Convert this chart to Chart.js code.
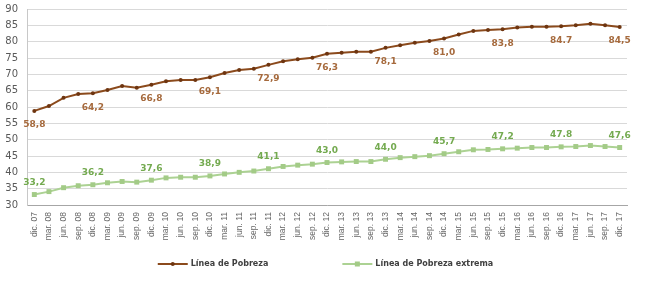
<!DOCTYPE html>
<html>
<head>
<meta charset="utf-8">
<script src="https://cdn.jsdelivr.net/npm/chart.js@4"></script>
<style>
  html, body { margin: 0; padding: 0; background: #fff; }
</style>
</head>
<body>
<canvas id="myChart" width="655" height="284"></canvas>
<script>
const periods = [
  'dic. 07', 'mar. 08', 'jun. 08', 'sep. 08', 'dic. 08', 'mar. 09', 'jun. 09', 'sep. 09', 'dic. 09',
  'mar. 10', 'jun. 10', 'sep. 10', 'dic. 10', 'mar. 11', 'jun. 11', 'sep. 11', 'dic. 11',
  'mar. 12', 'jun. 12', 'sep. 12', 'dic. 12', 'mar. 13', 'jun. 13', 'sep. 13', 'dic. 13',
  'mar. 14', 'jun. 14', 'sep. 14', 'dic. 14', 'mar. 15', 'jun. 15', 'sep. 15', 'dic. 15',
  'mar. 16', 'jun. 16', 'sep. 16', 'dic. 16', 'mar. 17', 'jun. 17', 'sep. 17', 'dic. 17'
];

// Línea de Pobreza
const pobreza = [
  58.8, 60.3, 62.8, 64.0, 64.2, 65.2, 66.4, 65.9, 66.8,
  67.9, 68.3, 68.3, 69.1, 70.4, 71.3, 71.7, 72.9,
  74.0, 74.6, 75.1, 76.3, 76.6, 76.9, 76.9, 78.1,
  78.9, 79.7, 80.2, 81.0, 82.2, 83.3, 83.6, 83.8,
  84.3, 84.6, 84.6, 84.7, 85.0, 85.5, 85.0, 84.5
];

// Línea de Pobreza extrema
const extrema = [
  33.2, 34.1, 35.3, 35.9, 36.2, 36.8, 37.2, 37.0, 37.6,
  38.3, 38.5, 38.5, 38.9, 39.5, 40.0, 40.4, 41.1,
  41.8, 42.2, 42.5, 43.0, 43.2, 43.3, 43.3, 44.0,
  44.5, 44.8, 45.1, 45.7, 46.3, 46.9, 47.0, 47.2,
  47.4, 47.6, 47.6, 47.8, 47.9, 48.2, 47.9, 47.6
];

// labelled points (every december) and their printed texts
const labelIdx = [0, 4, 8, 12, 16, 20, 24, 28, 32, 36, 40];
const pobrezaLabels = ['58,8', '64,2', '66,8', '69,1', '72,9', '76,3', '78,1', '81,0', '83,8', '84.7', '84,5'];
const extremaLabels = ['33,2', '36,2', '37,6', '38,9', '41,1', '43,0', '44,0', '45,7', '47,2', '47.8', '47,6'];

const brown = '#8b4a1c';
const green = '#acd293';

// draws the value labels under / over the december points
const valueLabels = {
  id: 'valueLabels',
  afterDatasetsDraw(chart) {
    const ctx = chart.ctx;
    ctx.save();
    ctx.font = 'bold 9px "DejaVu Sans"';
    ctx.textAlign = 'center';
    ctx.textBaseline = 'middle';
    [[0, pobrezaLabels, 14, '#a66a3d'], [1, extremaLabels, -12, '#74aa50']].forEach(([ds, texts, dy, color]) => {
      const pts = chart.getDatasetMeta(ds).data;
      ctx.fillStyle = color;
      labelIdx.forEach((idx, k) => ctx.fillText(texts[k], pts[idx].x, pts[idx].y + dy));
    });
    ctx.restore();
  }
};

// legend at the bottom: line with marker, then text
const bottomLegend = {
  id: 'bottomLegend',
  afterDraw(chart) {
    const ctx = chart.ctx;
    const items = chart.data.datasets;
    ctx.save();
    ctx.font = 'bold 8px "DejaVu Sans"';
    ctx.textBaseline = 'middle';
    const lineW = 30, gapText = 3, gapItems = 74;
    const widths = items.map(d => lineW + gapText + ctx.measureText(d.label).width);
    const total = widths.reduce((a, b) => a + b, 0) + gapItems;
    let x = chart.width / 2 - total / 2 - 2;
    const y = 264;
    items.forEach((d, i) => {
      ctx.strokeStyle = d.borderColor;
      ctx.lineWidth = 2;
      ctx.beginPath();
      ctx.moveTo(x, y);
      ctx.lineTo(x + lineW, y);
      ctx.stroke();
      ctx.fillStyle = d.pointBackgroundColor;
      if (d.pointStyle === 'rect') {
        ctx.fillRect(x + lineW / 2 - 2.5, y - 2.5, 5, 5);
      } else {
        ctx.beginPath();
        ctx.arc(x + lineW / 2, y, 2, 0, Math.PI * 2);
        ctx.fill();
      }
      ctx.fillStyle = '#404040';
      ctx.fillText(d.label, x + lineW + gapText, y);
      x += widths[i] + gapItems;
    });
    ctx.restore();
  }
};

const ctx = document.getElementById('myChart').getContext('2d');
const chart = new Chart(ctx, {
  type: 'line',
  data: {
    labels: periods,
    datasets: [{
      label: 'Línea de Pobreza',
      data: pobreza,
      borderColor: brown,
      borderWidth: 2,
      pointStyle: 'circle',
      pointRadius: 2,
      pointBackgroundColor: '#6e3510',
      pointBorderWidth: 0,
      tension: 0
    }, {
      label: 'Línea de Pobreza extrema',
      data: extrema,
      borderColor: green,
      borderWidth: 2,
      pointStyle: 'rect',
      pointRadius: 3.5,
      pointBackgroundColor: '#a3cb87',
      pointBorderWidth: 0,
      tension: 0
    }]
  },
  options: {
    responsive: false,
    animation: false,
    layout: { padding: { top: 9, right: 28, bottom: 40, left: 0 } },
    plugins: {
      legend: { display: false },
      tooltip: { enabled: false }
    },
    scales: {
      x: {
        offset: true,
        grid: { display: false, drawTicks: false },
        border: { display: true, color: '#a6a6a6' },
        ticks: {
          autoSkip: false,
          minRotation: 90,
          maxRotation: 90,
          padding: 7,
          color: '#666666',
          font: { family: 'Liberation Sans', size: 8.5 }
        },
        afterFit: s => { s.height = 39; s.paddingLeft = 0; s.paddingRight = 0; s.paddingTop = 0; s.paddingBottom = 0; }
      },
      y: {
        min: 30,
        max: 90,
        grid: { color: '#d9d9d9', drawTicks: false },
        border: { color: '#c8c8c8' },
        ticks: {
          stepSize: 5,
          padding: 9,
          color: '#595959',
          font: { family: 'DejaVu Sans', size: 10 }
        },
        afterFit: s => { s.width = 27; s.paddingTop = 0; s.paddingBottom = 0; }
      }
    }
  },
  plugins: [valueLabels, bottomLegend]
});
</script>
</body>
</html>
